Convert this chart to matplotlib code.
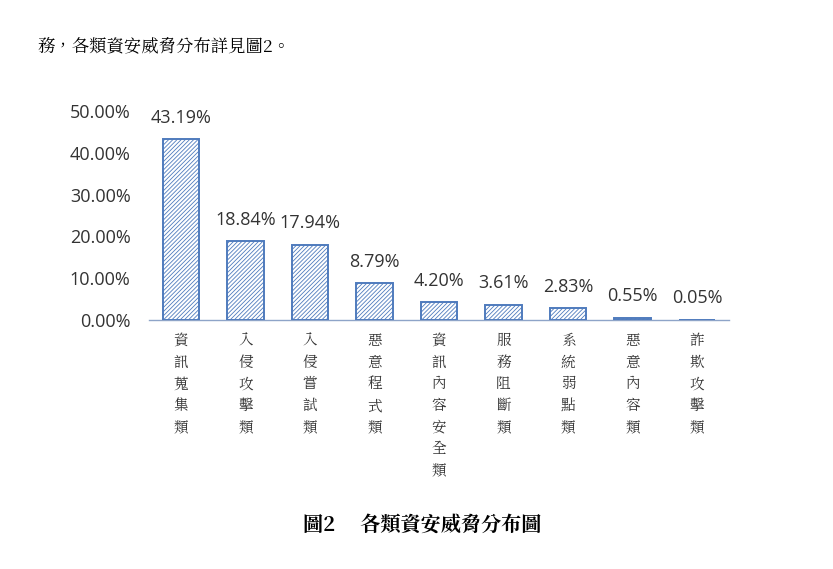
import matplotlib
matplotlib.use("Agg")
import matplotlib.pyplot as plt

plt.rcParams['font.family'] = ['Noto Sans CJK TC', 'DejaVu Sans']
plt.rcParams['hatch.linewidth'] = 0.6

# 資料
categories = ['資訊蒐集類', '入侵攻擊類', '入侵嘗試類', '惡意程式類', '資訊內容安全類',
              '服務阻斷類', '系統弱點類', '惡意內容類', '詐欺攻擊類']
values = [43.19, 18.84, 17.94, 8.79, 4.20, 3.61, 2.83, 0.55, 0.05]
y_ticks = [0, 10, 20, 30, 40, 50]

BLUE = '#4f7bbd'
NUM_FONT = ['Open Sans', 'DejaVu Sans']
CJK_FONT = ['Noto Serif CJK TC', 'Noto Sans CJK TC', 'DejaVu Sans']

fig = plt.figure(figsize=(8.33, 5.69), dpi=100)
ax = fig.add_axes([0.1785, 0.4376, 0.697, 0.3674])

x = list(range(len(categories)))
plt.rcParams['hatch.color'] = '#7f9fcf'
ax.bar(x, values, width=0.56, color='white', edgecolor=BLUE, linewidth=1.4,
       hatch='////////', zorder=3)

for xi, v in zip(x, values):
    ax.text(xi, v + 3.0, f'{v:.2f}%', ha='center', va='bottom',
            fontsize=13, color='#333333', family=NUM_FONT)

ax.set_xlim(-0.5, len(categories) - 0.5)
ax.set_ylim(0, 50)
ax.set_yticks(y_ticks)
ax.set_yticklabels([f'{t:.2f}%' for t in y_ticks], family=NUM_FONT,
                   fontsize=13, color='#333333')
ax.tick_params(axis='y', length=0, pad=13)
ax.set_xticks([])
for s in ['top', 'right', 'left']:
    ax.spines[s].set_visible(False)
ax.spines['bottom'].set_color('#8ea4c8')
ax.spines['bottom'].set_linewidth(1.0)

# 直書類別標籤
for xi, cat in zip(x, categories):
    ax.annotate('\n'.join(cat), xy=(xi, 0), xycoords='data',
                xytext=(0, -9), textcoords='offset points',
                ha='center', va='top', fontsize=10.5, color='#333333',
                linespacing=1.43, family=CJK_FONT)

fig.text(37 / 833, 1 - 47 / 569, '務，各類資安威脅分布詳見圖2。', ha='left', va='center',
         fontsize=12.5, color='black', family=CJK_FONT)
fig.text(422 / 833, 1 - 525 / 569, '圖2　 各類資安威脅分布圖', ha='center', va='center',
         fontsize=14.5, fontweight='bold', color='black', family=CJK_FONT)

fig.savefig('out.png', dpi=100, facecolor='white')
